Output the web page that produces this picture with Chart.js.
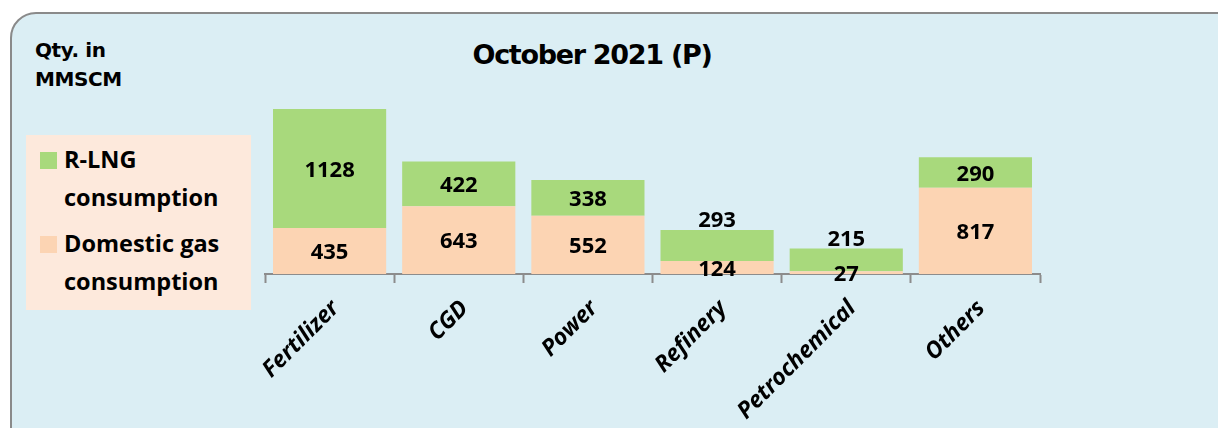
<!DOCTYPE html>
<html>
<head>
<meta charset="utf-8">
<script src="https://cdn.jsdelivr.net/npm/chart.js@4"></script>
<style>
  html, body { margin: 0; padding: 0; background: #ffffff; }
  body { width: 1218px; height: 428px; position: relative; overflow: hidden; }
  #panel {
    position: absolute; left: 10px; top: 12px; width: 1220px; height: 440px;
    background: #DBEEF4; border: 2px solid #8a8a8a; border-radius: 26px 10px 0 0;
    box-sizing: border-box;
  }
  #unit {
    position: absolute; left: 35px; top: 36px; font: bold 20px "DejaVu Sans", sans-serif;
    line-height: 29px; letter-spacing: -0.4px; color: #000;
  }
  #title {
    position: absolute; left: 380px; width: 424px; top: 39px; text-align: center;
    font: bold 27px "DejaVu Sans", sans-serif; letter-spacing: -1.3px; color: #000;
  }
  #legend {
    position: absolute; left: 26px; top: 135px; width: 225px; height: 175px;
    background: #FDE9DC; font: bold 23.5px "Open Sans", sans-serif; color: #000;
  }
  .item { position: absolute; left: 14px; }
  .item .sw { position: absolute; left: 0; top: 0; width: 17px; height: 17px; }
  .item .tx { position: absolute; left: 24px; top: -12px; line-height: 38px; white-space: nowrap; }
  #wrap { position: absolute; left: 0; top: 0; width: 1218px; height: 428px; }
</style>
</head>
<body>
<div id="panel"></div>
<div id="unit">Qty. in<br>MMSCM</div>
<div id="title">October 2021 (P)</div>
<div id="legend"></div>
<div id="wrap"><canvas id="gasChart"></canvas></div>
<script>
// Данни
const sectors = ['Fertilizer', 'CGD', 'Power', 'Refinery', 'Petrochemical', 'Others'];
const domesticGas = [435, 643, 552, 124, 27, 817];
const rlng = [1128, 422, 338, 293, 215, 290];
const seriesNames = ['Domestic gas consumption', 'R-LNG consumption'];
const legendLines = [['Domestic gas', 'consumption'], ['R-LNG', 'consumption']];

// Сектори, при които етикетът на R-LNG стои над стълба
const labelsAbove = ['Refinery', 'Petrochemical'];

const green = '#A8D97C';
const peach = '#FCD4B3';

// Етикети със стойности върху сегментите
const valueLabels = {
    id: 'valueLabels',
    afterDatasetsDraw(chart) {
        const ctx = chart.ctx;
        ctx.save();
        ctx.font = 'bold 22px "Open Sans", sans-serif';
        ctx.fillStyle = '#000';
        ctx.textAlign = 'center';
        ctx.textBaseline = 'middle';
        chart.data.datasets.forEach((ds, di) => {
            const meta = chart.getDatasetMeta(di);
            meta.data.forEach((bar, i) => {
                let y = (bar.y + bar.base) / 2 + 2;
                if (di === 1 && labelsAbove.includes(chart.data.labels[i])) {
                    y = bar.y - 9;
                }
                ctx.fillText(String(ds.data[i]), bar.x, y);
            });
        });
        ctx.restore();
    }
};

const ctx = document.getElementById('gasChart').getContext('2d');
const gasChart = new Chart(ctx, {
    type: 'bar',
    data: {
        labels: sectors,
        datasets: [{
            label: seriesNames[0],
            data: domesticGas,
            backgroundColor: peach,
            borderWidth: 0
        }, {
            label: seriesNames[1],
            data: rlng,
            backgroundColor: green,
            borderWidth: 0
        }]
    },
    options: {
        responsive: true,
        maintainAspectRatio: false,
        animation: false,
        layout: {
            padding: { left: 265, right: 178, top: 84, bottom: 0 }
        },
        datasets: {
            bar: { categoryPercentage: 1, barPercentage: 0.876 }
        },
        scales: {
            x: {
                stacked: true,
                afterFit: scale => { scale.height = 154; },
                grid: {
                    offset: true,
                    drawOnChartArea: false,
                    drawTicks: true,
                    tickLength: 9,
                    tickWidth: 2,
                    color: '#8c8c8c'
                },
                border: { display: true, color: '#8c8c8c', width: 2 },
                ticks: {
                    minRotation: 45,
                    maxRotation: 45,
                    padding: 12,
                    labelOffset: 6,
                    color: '#000',
                    font: { family: 'Open Sans', size: 23, weight: 'bold', style: 'italic' }
                }
            },
            y: {
                stacked: true,
                display: false,
                min: 0,
                max: 1800
            }
        },
        plugins: {
            legend: { display: false },
            tooltip: { enabled: false }
        }
    },
    plugins: [valueLabels]
});

// Легенда в HTML, в обратен ред
const legendEl = document.getElementById('legend');
[1, 0].forEach((di, k) => {
    const ds = gasChart.data.datasets[di];
    const item = document.createElement('div');
    item.className = 'item';
    item.style.top = (k === 0 ? 17 : 101) + 'px';
    item.innerHTML = '<span class="sw" style="background:' + ds.backgroundColor + '"></span>' +
        '<span class="tx">' + legendLines[di].join('<br>') + '</span>';
    legendEl.appendChild(item);
});
</script>
</body>
</html>
